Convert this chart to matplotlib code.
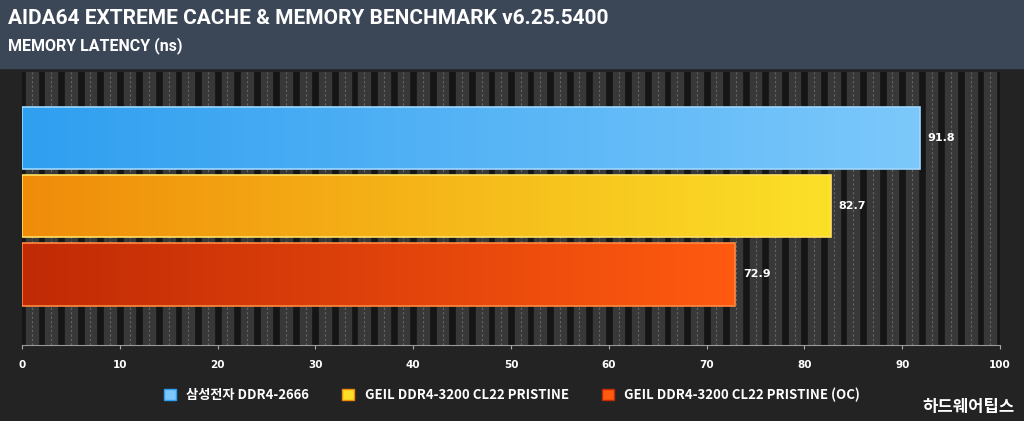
import matplotlib
matplotlib.use("Agg")
import matplotlib.pyplot as plt
import numpy as np
from matplotlib.patches import Rectangle, Patch
from matplotlib.colors import LinearSegmentedColormap

labels = ["삼성전자 DDR4-2666", "GEIL DDR4-3200 CL22 PRISTINE", "GEIL DDR4-3200 CL22 PRISTINE (OC)"]
values = [91.8, 82.7, 72.9]
ticks = [0, 10, 20, 30, 40, 50, 60, 70, 80, 90, 100]
grads = [("#2f9ff0", "#7cc8fb"), ("#f08c0a", "#fbe028"), ("#c02a05", "#ff5a10")]
edges = ["#9fd8ff", "#ffe060", "#ff8a40"]
CJK = ["Noto Sans CJK KR", "Noto Sans CJK JP", "Noto Sans CJK SC", "DejaVu Sans"]

W, H = 1024, 421
fig = plt.figure(figsize=(W/100, H/100), dpi=100)
fig.patch.set_facecolor("#232323")
fig.patches.append(Rectangle((0, 1-68/H), 1, 68/H, transform=fig.transFigure, color="#3b4757", zorder=0))
fig.text(8/W, 1-18/H, "AIDA64 EXTREME CACHE & MEMORY BENCHMARK v6.25.5400", color="white",
         fontsize=15, fontweight="bold", family="Roboto", va="center")
fig.text(8/W, 1-46/H, "MEMORY LATENCY (ns)", color="white", fontsize=11.5, fontweight="bold",
         family="Roboto", va="center")

ax = fig.add_axes([22/W, 1-345/H, (1000-22)/W, (345-72)/H])
ax.set_facecolor("#151515")
ax.set_xlim(0, 100)
ax.set_ylim(3.04, -0.97)
for x in np.arange(1, 100, 2):
    ax.axvspan(x - 0.6, x + 0.6, color="#383838", zorder=0)
    ax.axvline(x, color="#666666", lw=0.8, ls=(0, (2, 2)), zorder=0.5)
for i, v in enumerate(values):
    y = i
    cmap = LinearSegmentedColormap.from_list("g", grads[i])
    im = ax.imshow(np.linspace(0, 1, 256)[None, :], cmap=cmap, aspect="auto",
                   extent=(0, v, y + 0.46, y - 0.46), zorder=2)
    r = Rectangle((0, y - 0.46), v, 0.92, fill=False, ec=edges[i], lw=1.2, zorder=3)
    ax.add_patch(r)
    im.set_clip_path(r)
    ax.text(v + 0.8, y, f"{v}", color="white", fontsize=8, fontweight="bold", va="center", zorder=4)
ax.set_xticks(ticks)
ax.set_xticklabels([str(t) for t in ticks], color="white", fontsize=7.5, fontweight="bold")
ax.tick_params(axis="x", colors="#aaaaaa", length=3, pad=8, labelcolor="white")
ax.set_yticks([])
for s in ["top", "right", "left"]:
    ax.spines[s].set_visible(False)
ax.spines["bottom"].set_color("#999999")

handles = [Patch(facecolor=g[1], edgecolor=g[0]) for g in grads]
leg = fig.legend(handles, labels, loc="center", bbox_to_anchor=(0.5, 1-395/H), ncol=3,
                 frameon=False, handlelength=0.9, handleheight=0.9, columnspacing=2.5,
                 prop={"family": CJK, "weight": "bold", "size": 9.5})
for t in leg.get_texts():
    t.set_color("white")
fig.text(1015/W, 1-407/H, "하드웨어팁스", color="white", fontsize=12, fontweight="bold",
         family=CJK, ha="right", va="center")
fig.savefig("out.png", dpi=100, facecolor=fig.get_facecolor())
